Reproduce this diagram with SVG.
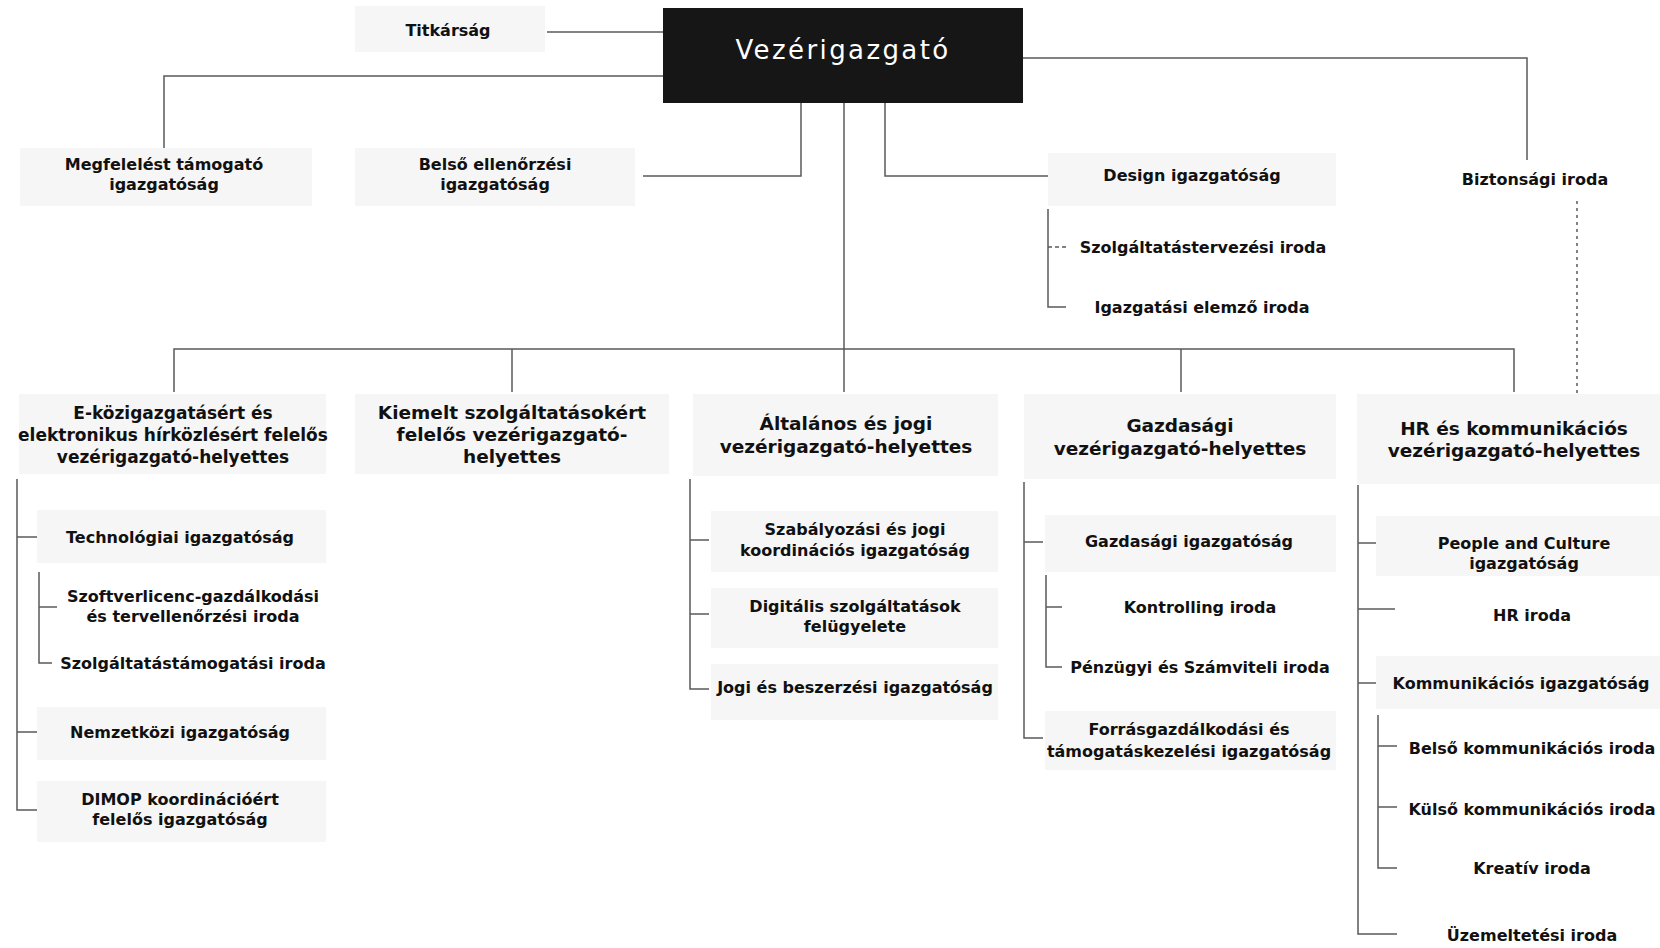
<svg xmlns="http://www.w3.org/2000/svg" width="1660" height="948" viewBox="0 0 1660 948">
<style>
.box{fill:#f6f6f6}
.t{font-family:"DejaVu Sans","Liberation Sans",sans-serif;font-weight:bold;font-size:16px;fill:#111;text-anchor:middle}
.h{font-size:18.5px}
.h2{font-size:17px}
.ln{stroke:#5a5a5a;stroke-width:1.5;fill:none}
.dot{stroke-dasharray:3 4}
.dash{stroke-dasharray:4 3}
</style>
<rect width="1660" height="948" fill="#ffffff"/>
<g id="connectors">
<path class="ln" d="M547,32 H663"/>
<path class="ln" d="M663,76 H164 V148"/>
<path class="ln" d="M1023,58 H1527 V160"/>
<path class="ln" d="M801,103 V176 H643"/>
<path class="ln" d="M885,103 V176 H1048"/>
<path class="ln" d="M844,103 V392"/>
<path class="ln" d="M174,392 V349 H1514 V392"/>
<path class="ln" d="M512,349 V392"/>
<path class="ln" d="M1181,349 V392"/>
<path class="ln dot" d="M1577,201 V397"/>
<path class="ln" d="M1048,209 V307 H1066"/>
<path class="ln dash" d="M1048,247 H1066"/>
<path class="ln" d="M17,479 V810 H37"/>
<path class="ln" d="M17,537 H37"/>
<path class="ln" d="M17,732 H37"/>
<path class="ln" d="M39,572 V663 H52"/>
<path class="ln" d="M39,607 H57"/>
<path class="ln" d="M690,479 V689 H709"/>
<path class="ln" d="M690,540 H709"/>
<path class="ln" d="M690,614 H709"/>
<path class="ln" d="M1024,482 V738 H1043"/>
<path class="ln" d="M1024,542 H1043"/>
<path class="ln" d="M1046,575 V667 H1062"/>
<path class="ln" d="M1046,607 H1062"/>
<path class="ln" d="M1358,485 V934 H1397"/>
<path class="ln" d="M1358,543 H1376"/>
<path class="ln" d="M1358,609 H1395"/>
<path class="ln" d="M1358,683 H1376"/>
<path class="ln" d="M1378,715 V868 H1397"/>
<path class="ln" d="M1378,746 H1397"/>
<path class="ln" d="M1378,807 H1397"/>
</g>
<g id="vezerigazgato">
<rect x="663" y="8" width="360" height="95" fill="#161616"/>
<text x="843" y="59" style="font-family:'DejaVu Sans','Liberation Sans',sans-serif;font-size:26px;fill:#fff;text-anchor:middle;letter-spacing:2.4px">Vezérigazgató</text>
</g>
<g id="titkarsag">
<rect class="box" x="355" y="6" width="190" height="46"/>
<text class="t" x="448" y="36">Titkárság</text>
</g>
<g id="megfeleles">
<rect class="box" x="20" y="148" width="292" height="58"/>
<text class="t" x="164" y="170">Megfelelést támogató</text>
<text class="t" x="164" y="190">igazgatóság</text>
</g>
<g id="belso-ellenorzesi">
<rect class="box" x="355" y="148" width="280" height="58"/>
<text class="t" x="495" y="170">Belső ellenőrzési</text>
<text class="t" x="495" y="190">igazgatóság</text>
</g>
<g id="design">
<rect class="box" x="1048" y="153" width="288" height="53"/>
<text class="t" x="1192" y="181">Design igazgatóság</text>
</g>
<g id="szolgaltatastervezesi">
<text class="t" x="1203" y="253">Szolgáltatástervezési iroda</text>
</g>
<g id="igazgatasi-elemzo">
<text class="t" x="1202" y="313">Igazgatási elemző iroda</text>
</g>
<g id="biztonsagi">
<text class="t" x="1535" y="185">Biztonsági iroda</text>
</g>
<g id="e-kozigazgatas">
<rect class="box" x="19" y="394" width="307" height="80"/>
<text class="t h2" x="173" y="419">E-közigazgatásért és</text>
<text class="t h2" x="173" y="441">elektronikus hírközlésért felelős</text>
<text class="t h2" x="173" y="463">vezérigazgató-helyettes</text>
</g>
<g id="kiemelt">
<rect class="box" x="355" y="394" width="314" height="80"/>
<text class="t h" x="512" y="419">Kiemelt szolgáltatásokért</text>
<text class="t h" x="512" y="441">felelős vezérigazgató-</text>
<text class="t h" x="512" y="463">helyettes</text>
</g>
<g id="altalanos">
<rect class="box" x="693" y="394" width="305" height="82"/>
<text class="t h" x="846" y="430">Általános és jogi</text>
<text class="t h" x="846" y="453">vezérigazgató-helyettes</text>
</g>
<g id="gazdasagi">
<rect class="box" x="1024" y="394" width="312" height="85"/>
<text class="t h" x="1180" y="432">Gazdasági</text>
<text class="t h" x="1180" y="455">vezérigazgató-helyettes</text>
</g>
<g id="hr-kommunikacios">
<rect class="box" x="1357" y="394" width="303" height="90"/>
<text class="t h" x="1514" y="435">HR és kommunikációs</text>
<text class="t h" x="1514" y="457">vezérigazgató-helyettes</text>
</g>
<g id="technologiai">
<rect class="box" x="37" y="510" width="289" height="53"/>
<text class="t" x="180" y="543">Technológiai igazgatóság</text>
</g>
<g id="szoftverlicenc">
<text class="t" x="193" y="602">Szoftverlicenc-gazdálkodási</text>
<text class="t" x="193" y="622">és tervellenőrzési iroda</text>
</g>
<g id="szolgaltatastamogatasi">
<text class="t" x="193" y="669">Szolgáltatástámogatási iroda</text>
</g>
<g id="nemzetkozi">
<rect class="box" x="37" y="707" width="289" height="53"/>
<text class="t" x="180" y="738">Nemzetközi igazgatóság</text>
</g>
<g id="dimop">
<rect class="box" x="37" y="781" width="289" height="61"/>
<text class="t" x="180" y="805">DIMOP koordinációért</text>
<text class="t" x="180" y="825">felelős igazgatóság</text>
</g>
<g id="szabalyozasi">
<rect class="box" x="711" y="511" width="287" height="61"/>
<text class="t" x="855" y="535">Szabályozási és jogi</text>
<text class="t" x="855" y="556">koordinációs igazgatóság</text>
</g>
<g id="digitalis">
<rect class="box" x="711" y="588" width="287" height="60"/>
<text class="t" x="855" y="612">Digitális szolgáltatások</text>
<text class="t" x="855" y="632">felügyelete</text>
</g>
<g id="jogi-beszerzesi">
<rect class="box" x="711" y="664" width="287" height="56"/>
<text class="t" x="855" y="693">Jogi és beszerzési igazgatóság</text>
</g>
<g id="gazdasagi-igazgatosag">
<rect class="box" x="1045" y="515" width="291" height="57"/>
<text class="t" x="1189" y="547">Gazdasági igazgatóság</text>
</g>
<g id="kontrolling">
<text class="t" x="1200" y="613">Kontrolling iroda</text>
</g>
<g id="penzugyi">
<text class="t" x="1200" y="673">Pénzügyi és Számviteli iroda</text>
</g>
<g id="forrasgazdalkodasi">
<rect class="box" x="1045" y="711" width="291" height="59"/>
<text class="t" x="1189" y="735">Forrásgazdálkodási és</text>
<text class="t" x="1189" y="757">támogatáskezelési igazgatóság</text>
</g>
<g id="people-culture">
<rect class="box" x="1376" y="516" width="284" height="60"/>
<text class="t" x="1524" y="549">People and Culture</text>
<text class="t" x="1524" y="569">igazgatóság</text>
</g>
<g id="hr-iroda">
<text class="t" x="1532" y="621">HR iroda</text>
</g>
<g id="kommunikacios">
<rect class="box" x="1376" y="656" width="284" height="53"/>
<text class="t" x="1521" y="689">Kommunikációs igazgatóság</text>
</g>
<g id="belso-kommunikacios">
<text class="t" x="1532" y="754">Belső kommunikációs iroda</text>
</g>
<g id="kulso-kommunikacios">
<text class="t" x="1532" y="815">Külső kommunikációs iroda</text>
</g>
<g id="kreativ">
<text class="t" x="1532" y="874">Kreatív iroda</text>
</g>
<g id="uzemeltetesi">
<text class="t" x="1532" y="941">Üzemeltetési iroda</text>
</g>
</svg>
